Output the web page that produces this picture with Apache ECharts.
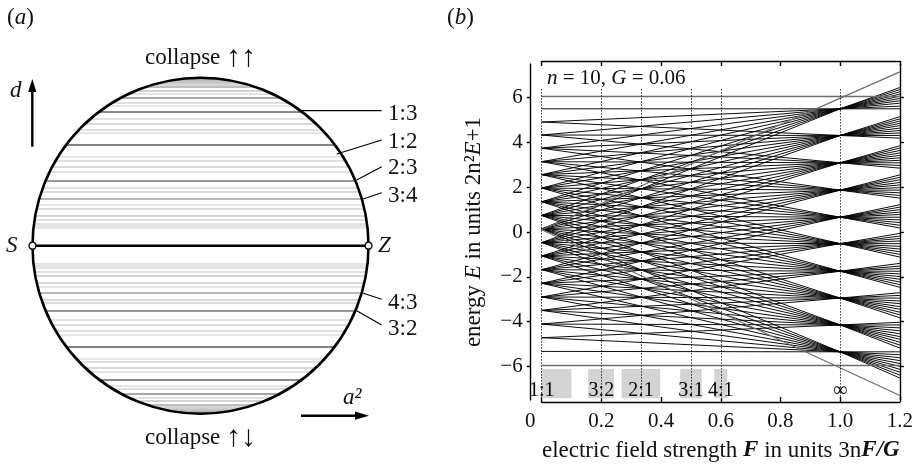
<!DOCTYPE html>
<html><head><meta charset="utf-8">
<script src="https://cdn.jsdelivr.net/npm/echarts@6/dist/echarts.min.js"></script>
<style>html,body{margin:0;padding:0;background:#fff}#c{width:916px;height:469px}</style>
</head><body><div id="c"></div>
<script>
const FONT = '"Liberation Serif","DejaVu Serif",serif';

// ---------- panel (b) data ----------
const xTickValues = [0, 0.2, 0.4, 0.6, 0.8, 1.0, 1.2];
const yTickValues = [-6, -4, -2, 0, 2, 4, 6];
// energies where the levels meet at F = 0 (read from the left edge)
const clusterE = [-5.33, -4.72, -4.11, -3.50, -2.90, -2.29, -1.68, -1.07, -0.47, 0.14,
                  0.74, 1.35, 1.96, 2.56, 3.14, 3.74, 4.33, 4.91, 5.50];
// energies where the fans meet at F = 1.0
const convergeE = [-5.35, -4.15, -2.95, -1.75, -0.52, 0.66, 1.87, 3.09, 4.31, 5.50];
// line ends at F = 1.2, one row per fan
const fanEndE = [
  [-5.35, -5.48, -5.61, -5.74, -5.87, -6.00, -6.13, -6.26, -6.39, -6.52],
  [-4.03, -4.15, -4.28, -4.41, -4.54, -4.67, -4.79, -4.92, -5.05, -5.18],
  [-2.71, -2.83, -2.95, -3.08, -3.20, -3.33, -3.45, -3.58, -3.70, -3.83],
  [-1.40, -1.52, -1.63, -1.75, -1.87, -1.99, -2.11, -2.23, -2.35, -2.47],
  [-0.06, -0.18, -0.29, -0.40, -0.52, -0.64, -0.76, -0.88, -1.00, -1.12],
  [1.22, 1.11, 1.00, 0.89, 0.78, 0.66, 0.54, 0.42, 0.30, 0.18],
  [2.55, 2.44, 2.33, 2.21, 2.10, 1.98, 1.87, 1.75, 1.63, 1.51],
  [3.85, 3.75, 3.64, 3.53, 3.42, 3.31, 3.20, 3.09, 2.97, 2.85],
  [5.15, 5.05, 4.95, 4.85, 4.75, 4.64, 4.53, 4.42, 4.31, 4.19],
  [6.45, 6.36, 6.26, 6.16, 6.06, 5.96, 5.86, 5.75, 5.62, 5.50]
];
// grey boundary lines [F, E] pairs
const grayTop = [[0, 6.05], [1.2, 6.05]];
const grayBottom = [[0, -5.96], [1.2, -5.96]];
const grayRise = [[0, 0.10], [1.2, 7.15]];
const grayFall = [[0, 0.10], [1.2, -7.30]];
const resonanceF = [0, 0.2, 0.333, 0.5, 0.6, 1.0];
const resonanceLabels = ['1:1', '3:2', '2:1', '3:1', '4:1', '\u221e'];
const dottedTopE = 6.37, dottedBottomE = -7.42, labelE = -7.08;
const boxSpans = [[0, 0.1], [0.156, 0.242], [0.268, 0.397], [0.464, 0.536], [0.578, 0.622]];
const boxTopE = -6.12, boxBottomE = -7.42;

// ---------- panel (a) data ----------
// heights of the horizontal lines, as fraction of the radius (+ = up)
const chordLevels = [
  0.600, 0.800, 0.385, 0.882, 0.280, 0.923, 0.724, 0.471, 0.220, 0.946, 0.180,
  0.960, 0.849, 0.690, 0.508, 0.324, 0.153, 0.969, 0.753, 0.438, 0.133,
  0.976, 0.906, 0.670, 0.528, 0.246, 0.117, 0.980, 0.835, 0.342, 0.105,
  0.986, 0.991, 0.995,
  -0.600, -0.800, -0.385, -0.882, -0.280, -0.923, -0.724, -0.471, -0.220, -0.946, -0.180,
  -0.960, -0.849, -0.690, -0.508, -0.324, -0.153, -0.969, -0.753, -0.438, -0.133,
  -0.976, -0.906, -0.670, -0.528, -0.246, -0.117, -0.980, -0.835, -0.342, -0.105,
  -0.986, -0.991, -0.995
];
const chordGrays = [
  '#5a5a5a', '#666666', '#777777', '#8a8a8a', '#a0a0a0', '#c4c4c4', '#cdcdcd', '#cdcdcd', '#cdcdcd', '#a8a8a8', '#c4c4c4',
  '#c8c8c8', '#d4d4d4', '#d4d4d4', '#d4d4d4', '#cccccc', '#d4d4d4', '#c0c0c0', '#d8d8d8', '#d8d8d8', '#d8d8d8',
  '#c0c0c0', '#d8d8d8', '#dcdcdc', '#dcdcdc', '#dcdcdc', '#dcdcdc', '#c0c0c0', '#dcdcdc', '#d0d0d0', '#dcdcdc',
  '#b8b8b8', '#b0b0b0', '#a8a8a8',
  '#5a5a5a', '#666666', '#777777', '#8a8a8a', '#a0a0a0', '#c4c4c4', '#cdcdcd', '#cdcdcd', '#cdcdcd', '#a8a8a8', '#c4c4c4',
  '#c8c8c8', '#d4d4d4', '#d4d4d4', '#d4d4d4', '#cccccc', '#d4d4d4', '#c0c0c0', '#d8d8d8', '#d8d8d8', '#d8d8d8',
  '#c0c0c0', '#d8d8d8', '#dcdcdc', '#dcdcdc', '#dcdcdc', '#dcdcdc', '#c0c0c0', '#dcdcdc', '#d0d0d0', '#dcdcdc',
  '#b8b8b8', '#b0b0b0', '#a8a8a8'
];
const ratioLabels = ['1:3', '1:2', '2:3', '3:4', '4:3', '3:2'];

// ---------- build ----------
const blackLines = [];
for (let i = 0; i < convergeE.length; i++) {
  for (let j = 0; j < 10; j++) {
    blackLines.push({ coords: [[0, clusterE[i + j]], [1.0, convergeE[i]], [1.2, fanEndE[i][j]]] });
  }
}
const chordData = chordLevels.map((d, k) => {
  const w = Math.sqrt(1 - d * d);
  return { coords: [[-w, d], [w, d]], lineStyle: { color: chordGrays[k] } };
});

const chart = echarts.init(document.getElementById('c'), null, { renderer: 'canvas' });
const axisTxt = { fontFamily: FONT, fontSize: 21, color: '#111' };
const black = { color: '#000', width: 1.4 };

const option = {
  backgroundColor: '#fff',
  animation: false,
  grid: [
    { left: 32.5, top: 77.7, width: 336, height: 336 },
    { left: 541.7, top: 64, width: 358.3, height: 336 }
  ],
  polar: { center: [200.5, 245.7], radius: 168 },
  angleAxis: {
    type: 'value', min: 0, max: 360, z: 10,
    axisLine: { show: true, lineStyle: { color: '#000', width: 2.6 } },
    axisTick: { show: false }, axisLabel: { show: false }, splitLine: { show: false }
  },
  radiusAxis: { type: 'value', min: 0, max: 1, show: false },
  xAxis: [
    { type: 'value', gridIndex: 0, min: -1, max: 1, show: false },
    {
      type: 'value', gridIndex: 1, min: 0, max: 1.2, position: 'bottom', offset: 2,
      axisLine: { show: true, onZero: false, lineStyle: black },
      axisTick: { show: true, inside: true, length: 5, customValues: xTickValues, lineStyle: black },
      axisLabel: {
        customValues: xTickValues, margin: 9, ...axisTxt,
        formatter: v => v === 0 ? '{z|0}' : v.toFixed(1),
        rich: { z: { ...axisTxt, padding: [0, 23, 0, 0] } }
      },
      splitLine: { show: false },
      name: 'electric field strength {b|F} in units 3n{b|F/G}',
      nameLocation: 'middle', nameGap: 37,
      nameTextStyle: { fontFamily: FONT, fontSize: 23, color: '#111',
        rich: { b: { fontFamily: FONT, fontSize: 23, fontWeight: 'bold', fontStyle: 'italic', color: '#111' } } }
    },
    {
      type: 'value', gridIndex: 1, min: 0, max: 1.2, position: 'top', offset: 3,
      axisLine: { show: true, onZero: false, lineStyle: black },
      axisTick: { show: true, inside: true, length: 5, customValues: xTickValues, lineStyle: black },
      axisLabel: { show: false }, splitLine: { show: false }
    }
  ],
  yAxis: [
    { type: 'value', gridIndex: 0, min: -1, max: 1, show: false },
    {
      type: 'value', gridIndex: 1, min: -7.5, max: 7.5, position: 'left', offset: 11,
      axisLine: { show: true, onZero: false, lineStyle: black },
      axisTick: { show: true, length: 4, customValues: yTickValues, lineStyle: black },
      axisLabel: { customValues: yTickValues, margin: 8, ...axisTxt,
        formatter: v => String(v).replace('-', '\u2212') },
      splitLine: { show: false },
      name: 'energy {i|E} in units 2n\u00b2{i|E}+1',
      nameLocation: 'middle', nameGap: 45,
      nameTextStyle: { fontFamily: FONT, fontSize: 23, color: '#111',
        rich: { i: { fontFamily: FONT, fontSize: 23, fontStyle: 'italic', color: '#111' } } }
    },
    {
      type: 'value', gridIndex: 1, min: -7.5, max: 7.5, position: 'right', offset: 0,
      axisLine: { show: true, onZero: false, lineStyle: black },
      axisTick: { show: true, length: 4, customValues: yTickValues, lineStyle: black },
      axisLabel: { show: false }, splitLine: { show: false }
    }
  ],
  series: [
    // panel (a) horizontal lines
    { type: 'lines', coordinateSystem: 'cartesian2d', xAxisIndex: 0, yAxisIndex: 0, silent: true, z: 2,
      data: chordData, lineStyle: { width: 1.7, opacity: 1 } },
    { type: 'line', xAxisIndex: 0, yAxisIndex: 0, z: 12, silent: true,
      data: [[-1, 0], [1, 0]], lineStyle: { color: '#000', width: 2.6 },
      symbol: 'circle', symbolSize: 7, showSymbol: true,
      itemStyle: { color: '#fff', borderColor: '#000', borderWidth: 1.3 } },
    // panel (b)
    { type: 'custom', coordinateSystem: 'cartesian2d', xAxisIndex: 1, yAxisIndex: 1, z: 1, silent: true,
      data: boxSpans.map(s => [s[0], s[1], boxTopE, boxBottomE]),
      encode: { x: [0, 1], y: [2, 3] },
      renderItem: (params, api) => {
        const p0 = api.coord([api.value(0), api.value(2)]);
        const p1 = api.coord([api.value(1), api.value(3)]);
        return { type: 'rect', shape: { x: p0[0], y: p0[1], width: p1[0] - p0[0], height: p1[1] - p0[1] },
                 style: { fill: '#d3d3d3' } };
      } },
    { type: 'lines', coordinateSystem: 'cartesian2d', xAxisIndex: 1, yAxisIndex: 1, polyline: true, silent: true, z: 3,
      data: blackLines, lineStyle: { color: '#000', width: 0.95, opacity: 1 } },
    { type: 'lines', coordinateSystem: 'cartesian2d', xAxisIndex: 1, yAxisIndex: 1, polyline: true, silent: true, z: 4,
      data: [grayTop, grayBottom, grayRise, grayFall].map(c => ({ coords: c })),
      lineStyle: { color: '#6e6e6e', width: 1.3, opacity: 1 } },
    { type: 'lines', coordinateSystem: 'cartesian2d', xAxisIndex: 1, yAxisIndex: 1, silent: true, z: 5,
      data: resonanceF.map(f => ({ coords: [[f, dottedTopE], [f, dottedBottomE]] })),
      lineStyle: { color: '#000', width: 1, type: [1.2, 1.8], opacity: 1 } },
    { type: 'scatter', xAxisIndex: 1, yAxisIndex: 1, z: 6, silent: true, symbol: 'rect', symbolSize: 1,
      itemStyle: { color: '#d3d3d3', opacity: 1 },
      data: resonanceF.map((f, k) => ({ value: [f, labelE], name: resonanceLabels[k] })),
      label: { show: true, position: 'inside', formatter: '{b}', fontFamily: FONT, fontSize: 20,
               color: '#000', textBorderWidth: 0, opacity: 1 },
      labelLayout: { hideOverlap: false } }
  ]
};
chart.setOption(option);

// ---------- annotations ----------
function T(x, y, text, o) {
  return { type: 'text', x: x, y: y, z: 100, silent: true,
    style: Object.assign({ text: text, fill: '#111', fontFamily: FONT, fontSize: 23,
      align: 'left', verticalAlign: 'middle' }, o || {}) };
}
function L(x1, y1, x2, y2, w) {
  return { type: 'line', z: 100, silent: true, shape: { x1, y1, x2, y2 }, style: { stroke: '#000', lineWidth: w || 1.2 } };
}
const italic = { fontFamily: FONT, fontSize: 23, fontStyle: 'italic', fill: '#111' };
const arrowStyle = { fontFamily: FONT, fontSize: 30, fill: '#111' };
const labelY = [114, 141.5, 168, 195.5, 302.5, 328.5];
const graphic = [
  T(7, 18, '({i|a})', { rich: { i: italic } }),
  T(447, 18, '({i|b})', { rich: { i: italic } }),
  T(200.5, 58, 'collapse {r|\u2191\u2191}', { align: 'center', rich: { r: arrowStyle } }),
  T(200.5, 438, 'collapse {r|\u2191\u2193}', { align: 'center', rich: { r: arrowStyle } }),
  T(10, 91, 'd', { fontStyle: 'italic' }),
  T(6, 246, 'S', { fontStyle: 'italic' }),
  T(378, 246, 'Z', { fontStyle: 'italic' }),
  T(343, 398, 'a\u00b2', { fontStyle: 'italic' }),
  T(547, 78, '{i|n} = 10, {i|G} = 0.06', { fontSize: 21, rich: { i: Object.assign({}, italic, { fontSize: 21 }) } }),
  L(32.3, 146.7, 32.3, 90, 2.4),
  { type: 'polygon', z: 100, silent: true, shape: { points: [[32.3, 79], [28.2, 92], [36.4, 92]] }, style: { fill: '#000' } },
  L(301, 415.7, 357, 415.7, 2.4),
  { type: 'polygon', z: 100, silent: true, shape: { points: [[369, 415.7], [355, 411.6], [355, 419.8]] }, style: { fill: '#000' } },
  L(300, 110.7, 381.7, 110.7),
  L(336.7, 154, 381.7, 140),
  L(356.7, 180, 381.7, 166.7),
  L(363.3, 199, 381.7, 192.7),
  L(363.3, 293.3, 381.7, 299.3),
  L(356.7, 310.7, 381.7, 325)
];
ratioLabels.forEach((t, k) => graphic.push(T(388, labelY[k], t)));
chart.setOption({ graphic: graphic });
</script></body></html>
